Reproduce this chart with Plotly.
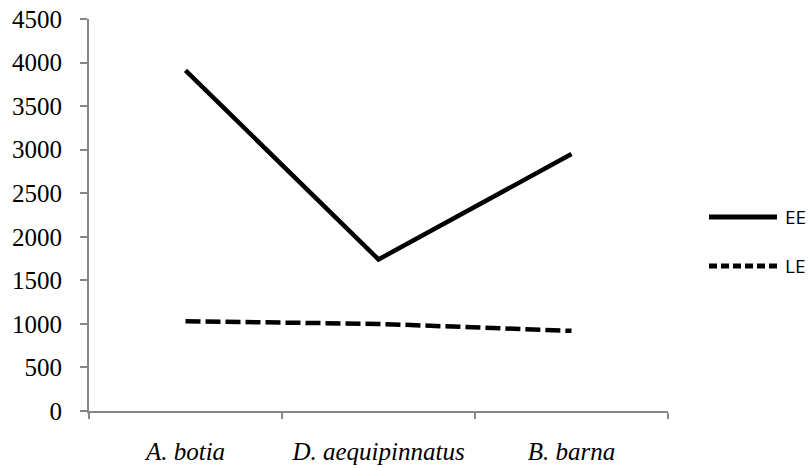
import plotly.graph_objects as go

categories = ["A. botia", "D. aequipinnatus", "B. barna"]
ee_values = [3910, 1740, 2950]
le_values = [1030, 1000, 920]
y_ticks = [0, 500, 1000, 1500, 2000, 2500, 3000, 3500, 4000, 4500]
series_names = ["EE", "LE"]

W, H = 811, 468
ML, MR, MT, MB = 89, 143, 19, 57
LW = 4.5
DASH = "15px,5px"
SERIF = "Liberation Serif"

fig = go.Figure()
fig.add_trace(go.Scatter(x=categories, y=ee_values, mode="lines", name=series_names[0],
                         line=dict(color="black", width=LW), showlegend=False))
fig.add_trace(go.Scatter(x=categories, y=le_values, mode="lines", name=series_names[1],
                         line=dict(color="black", width=LW, dash=DASH), showlegend=False))

# custom legend (long sample lines like the reference)
pw = W - ML - MR
ph = H - MT - MB
def px_to_paper_x(px):
    return (px - ML) / pw
def px_to_paper_y(py):
    return 1 - (py - MT) / ph

shapes = []
annotations = []
legend_y = [217, 266]
dashes = ["solid", DASH]
for name, ly, d in zip(series_names, legend_y, dashes):
    yp = px_to_paper_y(ly)
    shapes.append(dict(type="line", xref="paper", yref="paper",
                       x0=px_to_paper_x(709), x1=px_to_paper_x(777), y0=yp, y1=yp,
                       line=dict(color="black", width=LW + 0.5,
                                 dash=("8px,4px" if d != "solid" else "solid"))))
    annotations.append(dict(xref="paper", yref="paper", x=px_to_paper_x(783), y=yp,
                            xanchor="left", yanchor="middle", text=name, showarrow=False,
                            font=dict(family="Open Sans", size=19, color="black")))

axis_col = "#868686"
fig.update_layout(
    width=W, height=H,
    margin=dict(l=ML, r=MR, t=MT, b=MB, autoexpand=False),
    paper_bgcolor="white", plot_bgcolor="white",
    showlegend=False,
    shapes=shapes, annotations=annotations,
    xaxis=dict(type="category", range=[-0.5, 2.5], tickson="boundaries",
               tickmode="array", tickvals=categories,
               ticktext=["<i>" + c + "</i>" for c in categories],
               showline=True, linecolor=axis_col, linewidth=2,
               ticks="outside", ticklen=6, tickcolor=axis_col, tickwidth=2,
               showgrid=False, zeroline=False, automargin=False,
               tickfont=dict(family=SERIF, size=25, color="black"),
               ticklabelstandoff=17),
    yaxis=dict(range=[0, 4500], tickvals=y_ticks,
               showline=True, linecolor=axis_col, linewidth=2,
               ticks="outside", ticklen=7, tickcolor=axis_col, tickwidth=2,
               showgrid=False, zeroline=False, automargin=False,
               tickfont=dict(family=SERIF, size=25, color="black"),
               ticklabelstandoff=13),
)

fig.write_html("out.html", config={"displayModeBar": False},
               post_script="document.body.style.margin='0';")
